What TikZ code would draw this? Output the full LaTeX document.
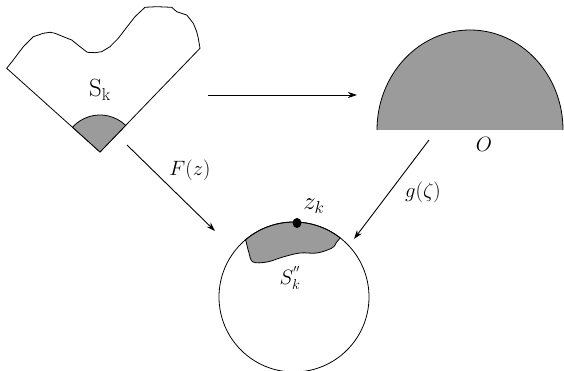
\documentclass[tikz,border=0pt]{standalone}
\usetikzlibrary{arrows.meta,calc}
\definecolor{regiongray}{RGB}{155,155,155}
\tikzset{
  outline/.style={line width=0.8pt, draw=black, line join=round},
  maparrow/.style={line width=0.9pt, -{Stealth[length=9pt,width=6pt]}},
  lbl/.style={inner sep=0pt, font=\fontsize{21}{24}\selectfont},
}
\begin{document}
\begin{tikzpicture}[x=1pt,y=1pt]
\useasboundingbox (0,0) rectangle (564,371);
% left region
\coordinate (sk) at (100,219);
\draw[outline] (6.7,302.7) -- (13.3,311) -- (23.3,324.3) -- (33.3,334.3) -- (43.3,337.7) -- (50,338.7) -- (55,337.7) -- (63.3,334.3) -- (71.7,331) -- (80,324.3) -- (87.3,318.7) -- (95,318.3) -- (101.7,319.3) -- (110,324.3) -- (118.3,332.7) -- (126.7,343.7) -- (135,354.3) -- (145,363.7) -- (156.7,364.3) -- (171.7,363.7) -- (176.7,359.3) -- (186.7,356) -- (193.3,347.7) -- (196.7,339.3) -- (198.3,332.7) -- (200,322.7) -- (sk) -- cycle;
\filldraw[fill=regiongray, outline] (sk) -- ++(138:37) arc[start angle=138, end angle=46, radius=37] -- cycle;
\node[lbl, font=\fontsize{24}{26}\selectfont] (Sk) at (100,281) {$\mathrm{S}_\mathrm{k}$};
% half disk
\fill[regiongray] (377,241) arc[start angle=180, end angle=0, x radius=93, y radius=100] -- cycle;
\draw[outline] (377,241) arc[start angle=180, end angle=0, x radius=93, y radius=100];
\node[lbl] (O) at (484,227) {$O$};
% circle
\coordinate (c) at (294,74);
\filldraw[fill=regiongray, outline] ($(c)+(131:75)$) arc[start angle=131, end angle=52, radius=75]
  -- plot[smooth, tension=0.6] coordinates {(336,128) (332,123) (317,118) (300,118) (283,114) (267,109) (253,109) (249,118) (245.8,130.6)} -- cycle;
\draw[outline] (c) circle[radius=75];
\fill (297,148) ellipse[x radius=4.5, y radius=5];
\node[lbl, font=\fontsize{23}{26}\selectfont] (zk) at (314,165) {$z_k$};
\node[lbl] (Skpp) at (290,93) {$S_k^{''}$};
% arrows
\coordinate (h1) at (208,276);
\coordinate (h2) at (357,276);
\draw[maparrow] (h1) -- (h2);
\coordinate (f1) at (127,226);
\coordinate (f2) at (215,140);
\draw[maparrow] (f1) -- (f2);
\node[lbl] (F) at (190,201) {$F(z)$};
\coordinate (g1) at (429,231);
\coordinate (g2) at (354,132);
\draw[maparrow] (g1) -- (g2);
\node[lbl] (g) at (423,179) {$g(\zeta)$};
\end{tikzpicture}
\end{document}
